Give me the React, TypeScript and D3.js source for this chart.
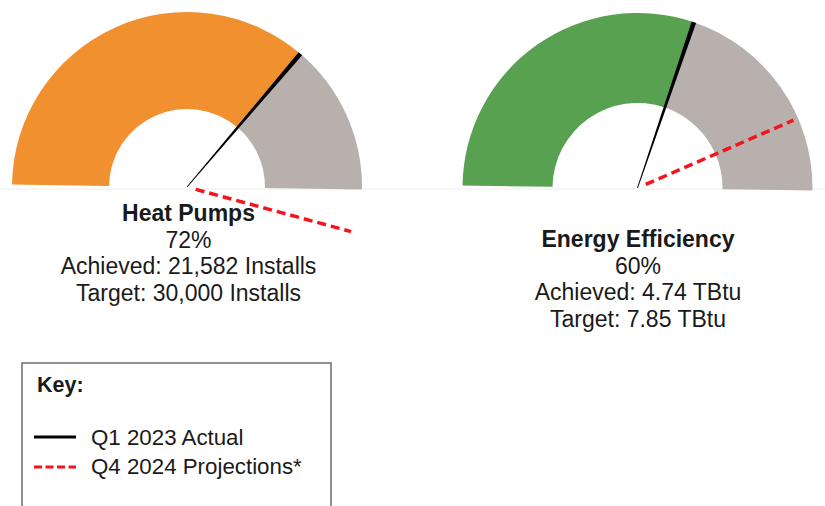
import React from 'react';
import * as d3 from 'd3';

const gaugeNames = ['Heat Pumps', 'Energy Efficiency'];
const achievedPct = [72, 60];
const projectedPct = [108, 86.5];
const achievedLabels = ['21,582 Installs', '4.74 TBtu'];
const targetLabels = ['30,000 Installs', '7.85 TBtu'];
const fillColors = ['#F0902F', '#58A151'];
const keyLabels = ['Q1 2023 Actual', 'Q4 2024 Projections*'];

const REMAIN = '#B8B0AC';
const FONT = '"Liberation Sans", Arial, sans-serif';

// layout of each gauge (center, radii, first text baseline)
const layout = [
    { cx: 187, cy: 187, outer: 175, inner: 78, textX: 188.5, textY: 221 },
    { cx: 637.5, cy: 188, outer: 175, inner: 85, textX: 638, textY: 247 },
];

const angle = d3.scaleLinear().domain([0, 100]).range([-Math.PI / 2, Math.PI / 2]);

const Gauge = ({ i }: { i: number }) => {
    const L = layout[i];
    const arc = d3.arc<any>().innerRadius(L.inner).outerRadius(L.outer);
    const a = angle(achievedPct[i]);
    const p = angle(projectedPct[i]);

    // tapered needle polygon, thin at hub and wide at rim
    const ux = Math.sin(a), uy = -Math.cos(a);
    const nx = -uy, ny = ux;
    const w0 = 0.4, w1 = 2.3;
    const needle = [
        [nx * w0, ny * w0],
        [ux * L.outer + nx * w1, uy * L.outer + ny * w1],
        [ux * L.outer - nx * w1, uy * L.outer - ny * w1],
        [-nx * w0, -ny * w0],
    ];

    const lines = [
        { t: gaugeNames[i], bold: true },
        { t: `${achievedPct[i]}%`, bold: false },
        { t: `Achieved: ${achievedLabels[i]}`, bold: false },
        { t: `Target: ${targetLabels[i]}`, bold: false },
    ];

    return (
        <g>
            <g transform={`translate(${L.cx},${L.cy}) rotate(0.8)`}>
                <path d={arc({ startAngle: -Math.PI / 2, endAngle: a }) as string} fill={fillColors[i]} />
                <path d={arc({ startAngle: a, endAngle: Math.PI / 2 }) as string} fill={REMAIN} />
                <path d={d3.line()(needle as [number, number][]) + 'Z'} fill="#000" />
                <line
                    x1={Math.sin(p) * 9} y1={-Math.cos(p) * 9}
                    x2={Math.sin(p) * 170} y2={-Math.cos(p) * 170}
                    stroke="#F5141B" strokeWidth={3.5} strokeDasharray="9,5"
                />
            </g>
            {lines.map((d, k) => (
                <text key={k} x={L.textX} y={L.textY + k * 26.5} textAnchor="middle"
                    fontFamily={FONT} fontSize={23} fontWeight={d.bold ? 'bold' : 'normal'} fill="#1a1a1a">
                    {d.t}
                </text>
            ))}
        </g>
    );
};

const App = () => {
    return (
        <div style={{ position: 'absolute', left: 0, top: 0 }}>
            <svg width={825} height={506} style={{ display: 'block', background: '#fff' }}>
                <line x1={0} x2={825} y1={189} y2={189} stroke="#ECECEC" strokeWidth={1} />
                <Gauge i={0} />
                <Gauge i={1} />

                {/* Key */}
                <rect x={22} y={363} width={309} height={170} fill="none" stroke="#555" strokeWidth={1.3} />
                <text x={37} y={392} fontFamily={FONT} fontSize={21.5} fontWeight="bold" fill="#1a1a1a">Key:</text>
                <line x1={34} x2={76} y1={437} y2={437} stroke="#000" strokeWidth={3} />
                <text x={91} y={445} fontFamily={FONT} fontSize={22.3} fill="#1a1a1a">{keyLabels[0]}</text>
                <line x1={34} x2={76} y1={467} y2={467} stroke="#F5141B" strokeWidth={3} strokeDasharray="8,3.5" />
                <text x={91} y={474} fontFamily={FONT} fontSize={22.3} fill="#1a1a1a">{keyLabels[1]}</text>
            </svg>
        </div>
    );
};

export default App;
